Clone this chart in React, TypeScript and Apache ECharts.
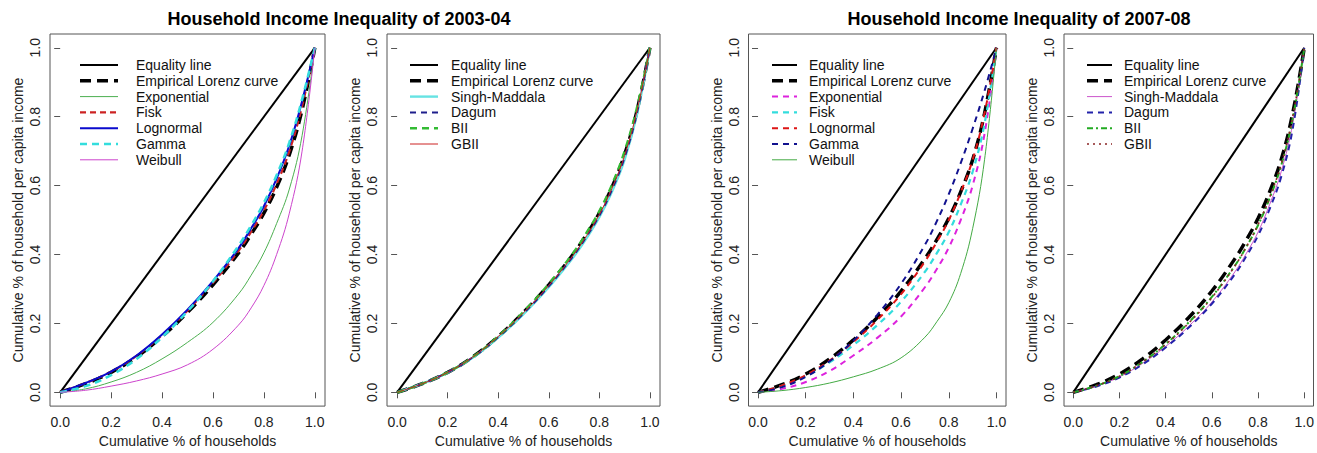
import React, { useEffect, useRef } from "react";
import * as echarts from "echarts";

// ---------- data ----------
const shares = [0, 0.1, 0.2, 0.3, 0.4, 0.5, 0.6, 0.7, 0.75, 0.8, 0.85, 0.9, 0.95, 1];
const equalityX = [0, 1];
const equalityY = [0, 1];

// 2003-04
const empirical03 = [0, 0.025, 0.058, 0.103, 0.162, 0.232, 0.312, 0.404, 0.459, 0.52, 0.595, 0.69, 0.82, 1];
const exponential03 = [0, 0.01, 0.03, 0.058, 0.097, 0.145, 0.203, 0.285, 0.34, 0.405, 0.49, 0.59, 0.745, 1];
const fisk03 = [0, 0.027, 0.06, 0.106, 0.166, 0.237, 0.318, 0.41, 0.466, 0.528, 0.605, 0.7, 0.83, 1];
const lognormal03 = [0, 0.027, 0.06, 0.107, 0.168, 0.24, 0.323, 0.418, 0.476, 0.54, 0.62, 0.717, 0.845, 1];
const gamma03 = [0, 0.018, 0.05, 0.097, 0.16, 0.235, 0.322, 0.425, 0.484, 0.55, 0.63, 0.725, 0.85, 1];
const weibull03 = [0, 0.006, 0.018, 0.033, 0.053, 0.08, 0.125, 0.195, 0.245, 0.31, 0.4, 0.52, 0.7, 1];
const singh03 = [0, 0.025, 0.057, 0.101, 0.159, 0.227, 0.305, 0.395, 0.448, 0.508, 0.582, 0.675, 0.81, 1];
const dagum03 = [0, 0.025, 0.058, 0.102, 0.16, 0.229, 0.308, 0.399, 0.453, 0.513, 0.588, 0.682, 0.815, 1];
const bii03 = [0, 0.025, 0.058, 0.103, 0.163, 0.234, 0.315, 0.408, 0.464, 0.526, 0.603, 0.7, 0.83, 1];
const gbii03 = [0, 0.025, 0.058, 0.103, 0.162, 0.231, 0.31, 0.401, 0.455, 0.516, 0.592, 0.687, 0.82, 1];

// 2007-08
const empirical07 = [0, 0.022, 0.053, 0.097, 0.152, 0.217, 0.294, 0.388, 0.443, 0.505, 0.582, 0.675, 0.81, 1];
const exponential07 = [0, 0.01, 0.03, 0.062, 0.107, 0.158, 0.22, 0.305, 0.358, 0.42, 0.5, 0.6, 0.75, 1];
const fisk07 = [0, 0.019, 0.047, 0.087, 0.137, 0.195, 0.263, 0.35, 0.404, 0.465, 0.545, 0.64, 0.78, 1];
const lognormal07 = [0, 0.02, 0.05, 0.092, 0.146, 0.21, 0.285, 0.38, 0.437, 0.5, 0.58, 0.675, 0.81, 1];
const gamma07 = [0, 0.015, 0.045, 0.09, 0.15, 0.225, 0.315, 0.428, 0.497, 0.575, 0.665, 0.765, 0.875, 1];
const weibull07 = [0, 0.005, 0.014, 0.027, 0.045, 0.067, 0.1, 0.16, 0.205, 0.26, 0.345, 0.475, 0.675, 1];
const singh07 = [0, 0.018, 0.045, 0.084, 0.133, 0.192, 0.262, 0.35, 0.404, 0.465, 0.545, 0.64, 0.78, 1];
const dagum07 = [0, 0.017, 0.043, 0.081, 0.13, 0.188, 0.257, 0.343, 0.396, 0.455, 0.532, 0.625, 0.765, 1];
const bii07 = [0, 0.019, 0.047, 0.088, 0.14, 0.203, 0.277, 0.368, 0.423, 0.485, 0.563, 0.658, 0.795, 1];
const gbii07 = [0, 0.019, 0.047, 0.088, 0.139, 0.201, 0.275, 0.367, 0.423, 0.487, 0.566, 0.662, 0.8, 1];

const tickValues = [0, 0.2, 0.4, 0.6, 0.8, 1.0];
const titles = ["Household Income Inequality of 2003-04", "Household Income Inequality of 2007-08"];
const xTitle = "Cumulative % of households";
const yTitle = "Cumulative % of household per capita income";

const namesA = ["Equality line", "Empirical Lorenz curve", "Exponential", "Fisk", "Lognormal", "Gamma", "Weibull"];
const namesB = ["Equality line", "Empirical Lorenz curve", "Singh-Maddala", "Dagum", "BII", "GBII"];

const panelCurves = [
  [empirical03, exponential03, fisk03, lognormal03, gamma03, weibull03],
  [empirical03, singh03, dagum03, bii03, gbii03],
  [empirical07, exponential07, fisk07, lognormal07, gamma07, weibull07],
  [empirical07, singh07, dagum07, bii07, gbii07],
];
const panelNames = [namesA, namesB, namesA, namesB];

// ---------- styles ----------
type St = { color: string; width: number; dash?: number[] };
const EQ: St = { color: "#000000", width: 2 };
const EMP: St = { color: "#000000", width: 3.5, dash: [11, 6] };
const panelStyles: St[][] = [
  [EQ, EMP,
    { color: "#4CAF50", width: 1 },
    { color: "#CC2222", width: 2.2, dash: [6, 4] },
    { color: "#0A0ACD", width: 2 },
    { color: "#33DDDD", width: 2.6, dash: [7, 5] },
    { color: "#CC44CC", width: 1 }],
  [EQ, EMP,
    { color: "#66E3E3", width: 2.4 },
    { color: "#1E1E8C", width: 2, dash: [6, 5] },
    { color: "#33BB33", width: 2.4, dash: [7, 5] },
    { color: "#CC2222", width: 1 }],
  [EQ, EMP,
    { color: "#DD22DD", width: 2, dash: [6, 5] },
    { color: "#33DDDD", width: 2.2, dash: [6, 5] },
    { color: "#DD1515", width: 2, dash: [6, 5] },
    { color: "#11118F", width: 2, dash: [6, 5] },
    { color: "#44AA44", width: 1 }],
  [EQ, EMP,
    { color: "#CC55CC", width: 1 },
    { color: "#2222AA", width: 2, dash: [6, 5] },
    { color: "#22AA22", width: 2, dash: [6, 3, 2, 3] },
    { color: "#8B2525", width: 1.6, dash: [2, 4] }],
];

const FONT = "'Liberation Sans', Arial, Helvetica, sans-serif";
const grids = [
  { left: 50, width: 275 },
  { left: 387, width: 273 },
  { left: 748.5, width: 257.5 },
  { left: 1064, width: 258 },
];
const legendPos = [
  { x1: 80, x2: 118, tx: 136 },
  { x1: 410, x2: 438, tx: 451 },
  { x1: 772, x2: 797, tx: 809 },
  { x1: 1087, x2: 1112, tx: 1124 },
];
const titlePos = [339, 1019];

export default function App() {
  const ref = useRef<HTMLDivElement>(null);
  useEffect(() => {
    document.body.style.margin = "0";
    if (!ref.current) return;
    const chart = echarts.init(ref.current, undefined, { renderer: "svg" });

    const grid = grids.map((g) => ({
      left: g.left, width: g.width, top: 34, height: 382,
      show: true, borderColor: "#555", borderWidth: 1, backgroundColor: "transparent",
      containLabel: false,
    }));

    const xAxis = grids.map((_, i) => ({
      type: "value", gridIndex: i, min: -0.04, max: 1.04,
      name: xTitle, nameLocation: "middle", nameGap: 22,
      nameTextStyle: { fontFamily: FONT, fontSize: 14, color: "#222" },
      axisLine: { show: false },
      splitLine: { show: false },
      axisTick: { show: true, inside: false, length: 6, customValues: tickValues, lineStyle: { color: "#555" } },
      axisLabel: { customValues: tickValues, margin: 9, fontFamily: FONT, fontSize: 14, color: "#222",
        formatter: (v: number) => v.toFixed(1) },
    }));
    const yAxis = grids.map((_, i) => ({
      type: "value", gridIndex: i, min: -0.04, max: 1.04,
      name: yTitle, nameLocation: "middle", nameGap: 25, nameRotate: 90,
      nameTextStyle: { fontFamily: FONT, fontSize: 14, color: "#222" },
      axisLine: { show: false },
      splitLine: { show: false },
      axisTick: { show: true, inside: false, length: 6, customValues: tickValues, lineStyle: { color: "#555" } },
      axisLabel: { customValues: tickValues, margin: 8, rotate: 90, fontFamily: FONT, fontSize: 14, color: "#222",
        formatter: (v: number) => v.toFixed(1) },
    }));

    const series: any[] = [];
    const graphics: any[] = [];
    panelNames.forEach((names, p) => {
      const styles = panelStyles[p];
      names.forEach((name, k) => {
        const st = styles[k];
        let data: number[][];
        if (k === 0) data = equalityX.map((x, i) => [x, equalityY[i]]);
        else {
          const ys = panelCurves[p][k - 1];
          data = shares.map((x, i) => [x, ys[i]]);
        }
        series.push({
          type: "line", name, xAxisIndex: p, yAxisIndex: p, data,
          showSymbol: false, symbol: "none", smooth: 0.4,
          lineStyle: { color: st.color, width: st.width, type: st.dash ? st.dash : "solid" },
          z: 2 + k, silent: true,
        });
        const lp = legendPos[p];
        const y = 65 + k * 15.8;
        graphics.push({
          type: "line", shape: { x1: lp.x1, y1: y, x2: lp.x2, y2: y },
          style: { stroke: st.color, lineWidth: st.width, lineDash: st.dash || null },
        });
        graphics.push({
          type: "text", x: lp.tx, y,
          style: { text: name, font: `14px ${FONT}`, fill: "#111", verticalAlign: "middle", align: "left" },
        });
      });
    });
    titles.forEach((t, i) => {
      graphics.push({
        type: "text", x: titlePos[i], y: 19,
        style: { text: t, font: `bold 18px ${FONT}`, fill: "#000", align: "center", verticalAlign: "middle" },
      });
    });

    chart.setOption({
      animation: false,
      backgroundColor: "#ffffff",
      grid, xAxis, yAxis, series, graphic: graphics,
    });
    return () => chart.dispose();
  }, []);
  return <div ref={ref} style={{ width: 1317, height: 453 }} />;
}
